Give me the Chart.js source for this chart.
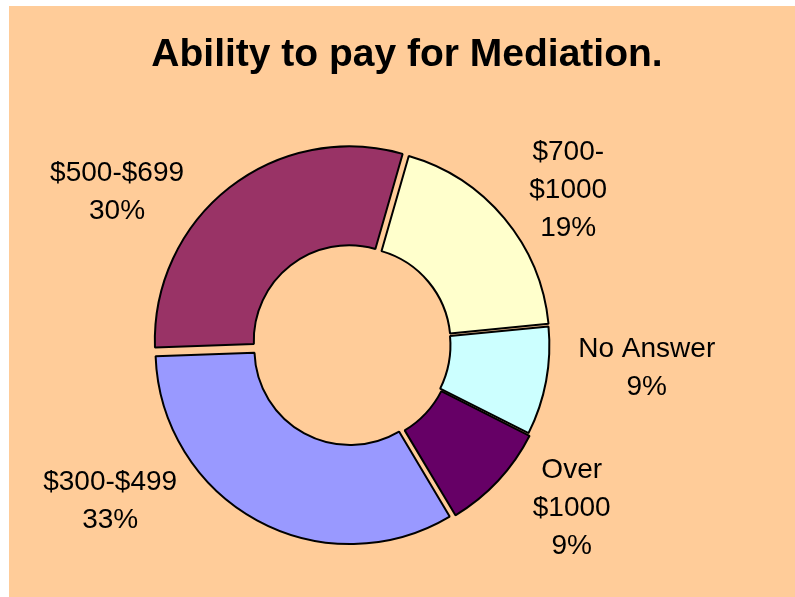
<!DOCTYPE html>
<html>
<head>
<meta charset="utf-8">
<title>Ability to pay for Mediation.</title>
<script src="https://cdn.jsdelivr.net/npm/chart.js@4"></script>
<style>
  html, body { margin: 0; padding: 0; background: #fff; }
  #panel { position: absolute; left: 9px; top: 6px; width: 786px; height: 591px; background: #ffcc99; }
  #titulo {
    position: absolute; left: 0; top: 27px; width: 796px;
    text-align: center; font: bold 39px/39px "Liberation Sans", Arial, sans-serif; color: #000;
  }
  #grafico { position: absolute; left: 0; top: 0; }
</style>
</head>
<body>
<div id="panel">
  <canvas id="grafico" width="786" height="591"></canvas>
  <div id="titulo">Ability to pay for Mediation.</div>
</div>
<script>
// categorías en el orden del gráfico (sentido horario)
const categorias = [["$700-", "$1000"], "No Answer", ["Over", "$1000"], "$300-$499", "$500-$699"];
const porcentajes = [19, 9, 9, 33, 30];
const colores = ["#ffffcc", "#ccffff", "#660066", "#9999ff", "#993366"];

// separación de cada porción (Chart.js usa offset/4 en píxeles)
const separacion = [14, 8, 14, 20, 22];

// ajuste de las etiquetas: giro (grados) y distancia al centro
const giroEtiqueta = [3.7, -6.5, -6.7, 29, -18.6];
const distEtiqueta = [267, 295, 272, 287, 282];

const etiquetas = {
    id: "etiquetas",
    afterDatasetsDraw(chart) {
        const ctx = chart.ctx;
        const meta = chart.getDatasetMeta(0);
        const total = porcentajes.reduce((a, b) => a + b, 0);
        const tam = 28, alto = 38, cap = tam * 0.716;
        ctx.save();
        ctx.font = tam + 'px "Liberation Sans", Arial, sans-serif';
        ctx.fillStyle = "#000";
        ctx.textAlign = "center";
        ctx.textBaseline = "alphabetic";
        meta.data.forEach((arco, i) => {
            const p = arco.getProps(["x", "y", "startAngle", "endAngle"], true);
            const ang = (p.startAngle + p.endAngle) / 2 + giroEtiqueta[i] * Math.PI / 180;
            const x = p.x + Math.cos(ang) * distEtiqueta[i];
            const y = p.y + Math.sin(ang) * distEtiqueta[i];
            const cat = categorias[i];
            const lineas = (Array.isArray(cat) ? cat : [cat]).concat([Math.round(porcentajes[i] / total * 100) + "%"]);
            const span = cap + (lineas.length - 1) * alto;
            let base = y - span / 2 + cap;
            lineas.forEach(l => {
                ctx.fillText(l, x, base);
                base += alto;
            });
        });
        ctx.restore();
    }
};

new Chart(document.getElementById("grafico").getContext("2d"), {
    type: "doughnut",
    data: {
        labels: categorias,
        datasets: [{
            data: porcentajes,
            backgroundColor: colores,
            borderColor: "#000",
            borderWidth: 2,
            offset: separacion
        }]
    },
    options: {
        responsive: false,
        animation: false,
        events: [],
        rotation: 16,
        radius: 194,
        cutout: "49%",
        layout: { padding: { left: 0, right: 99, top: 87, bottom: 0 } },
        plugins: {
            legend: { display: false },
            title: { display: false },
            tooltip: { enabled: false }
        }
    },
    plugins: [etiquetas]
});
</script>
</body>
</html>
